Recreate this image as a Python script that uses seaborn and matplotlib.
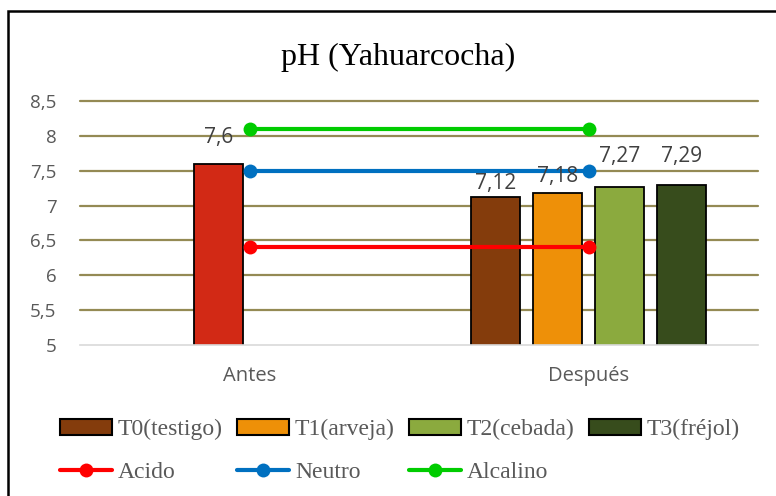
import matplotlib
matplotlib.use("Agg")
import matplotlib.pyplot as plt
import seaborn as sns
import pandas as pd
from matplotlib.patches import Rectangle, Patch
from matplotlib.lines import Line2D

# data
momentos = ["Antes", "Después"]
antes_ph = [7.6]
tratamientos = ["T0(testigo)", "T1(arveja)", "T2(cebada)", "T3(fréjol)"]
despues_ph = [7.12, 7.18, 7.27, 7.29]
antes_label = ["7,6"]
despues_labels = ["7,12", "7,18", "7,27", "7,29"]
ref_names = ["Acido", "Neutro", "Alcalino"]
ref_values = [6.4, 7.5, 8.1]
y_ticks = [5, 5.5, 6, 6.5, 7, 7.5, 8, 8.5]
y_ticklabels = ["5", "5,5", "6", "6,5", "7", "7,5", "8", "8,5"]

trat_colors = ["#843C0C", "#EE9008", "#8BAA3E", "#374C1C"]
antes_color = "#D22915"
ref_colors = ["#FF0000", "#0070C0", "#00CC00"]
grey = "#595959"

sns.set_theme(style="white")
plt.rcParams["font.family"] = ["Open Sans", "DejaVu Sans"]

fig = plt.figure(figsize=(7.76, 4.96), dpi=100)
ax = fig.add_axes([80 / 776, 151 / 496, 678 / 776, 244 / 496])

slot = 0.183
width = 0.1445
offsets = [-1.5 * slot, -0.5 * slot, 0.5 * slot, 1.5 * slot]

# bars
ax.bar([0 + offsets[1]], antes_ph, width=width, bottom=0, color=antes_color,
       edgecolor="black", linewidth=1.3, zorder=2)
for i, (v, c) in enumerate(zip(despues_ph, trat_colors)):
    ax.bar([1 + offsets[i]], [v], width=width, color=c,
           edgecolor="black", linewidth=1.3, zorder=2)

# reference lines
rows = []
for name, val in zip(ref_names, ref_values):
    for k in range(len(momentos)):
        rows.append({"x": k, "ph": val, "tipo": name})
ref_df = pd.DataFrame(rows)
sns.lineplot(data=ref_df, x="x", y="ph", hue="tipo", hue_order=ref_names,
             palette=ref_colors, marker="o", markersize=10, markeredgewidth=0,
             linewidth=3, legend=False, ax=ax, zorder=3)

# data labels (pixel offsets avoid the lines, as in the original)
label_pad = [11, 2, 4, 14, 13]
all_x = [0 + offsets[1]] + [1 + o for o in offsets]
all_v = antes_ph + despues_ph
all_l = antes_label + despues_labels
for x, v, t, p in zip(all_x, all_v, all_l, label_pad):
    ax.annotate(t, (x, v), xytext=(0, p), textcoords="offset points",
                ha="center", va="bottom", fontsize=15, color="#404040", zorder=4)

ax.set_xlim(-0.5, 1.5)
ax.set_ylim(5, 8.5)
ax.set_xticks([0, 1])
ax.set_xticklabels(momentos, fontsize=14.5, color=grey)
ax.set_yticks(y_ticks)
ax.set_yticklabels(y_ticklabels, fontsize=13.5, color=grey)
ax.tick_params(axis="x", length=0, pad=15)
ax.tick_params(axis="y", length=0, pad=17)
ax.set_xlabel("")
ax.set_ylabel("")
for s in ["top", "right", "left"]:
    ax.spines[s].set_visible(False)
ax.spines["bottom"].set_color("#D9D9D9")
ax.spines["bottom"].set_linewidth(1.2)
for yt in y_ticks[1:]:
    ax.axhline(yt, color="#948A54", linewidth=1.6, zorder=1, clip_on=False)

fig.text(398 / 776, 1 - 57 / 496, "pH (Yahuarcocha)", ha="center", va="center",
         fontsize=23, family="Liberation Serif", color="black")

# legend
bar_h = [Patch(facecolor=c, edgecolor="black", linewidth=1.5) for c in trat_colors]
line_h = [Line2D([], [], color=c, linewidth=3, marker="o", markersize=10,
                 markeredgewidth=0) for c in ref_colors]
order = [(bar_h[0], tratamientos[0]), (line_h[0], ref_names[0]),
         (bar_h[1], tratamientos[1]), (line_h[1], ref_names[1]),
         (bar_h[2], tratamientos[2]), (line_h[2], ref_names[2]),
         (bar_h[3], tratamientos[3])]
handles = [h for h, _ in order]
labels = [l for _, l in order]
leg = fig.legend(handles, labels, ncol=4, loc="upper left",
                 bbox_to_anchor=(60 / 776, 1 - 419 / 496), frameon=False,
                 prop={"family": "Liberation Serif", "size": 17},
                 handlelength=2.2, handleheight=0.65, handletextpad=0.25,
                 columnspacing=0.6, labelspacing=0.92, borderpad=0, borderaxespad=0)
for t in leg.get_texts():
    t.set_color(grey)

fig.patches.append(Rectangle((8 / 776, -0.1), 1.2, 1.1 - 11 / 496, transform=fig.transFigure,
                             fill=False, edgecolor="black", linewidth=1.8))

fig.savefig("out.png", dpi=100)
